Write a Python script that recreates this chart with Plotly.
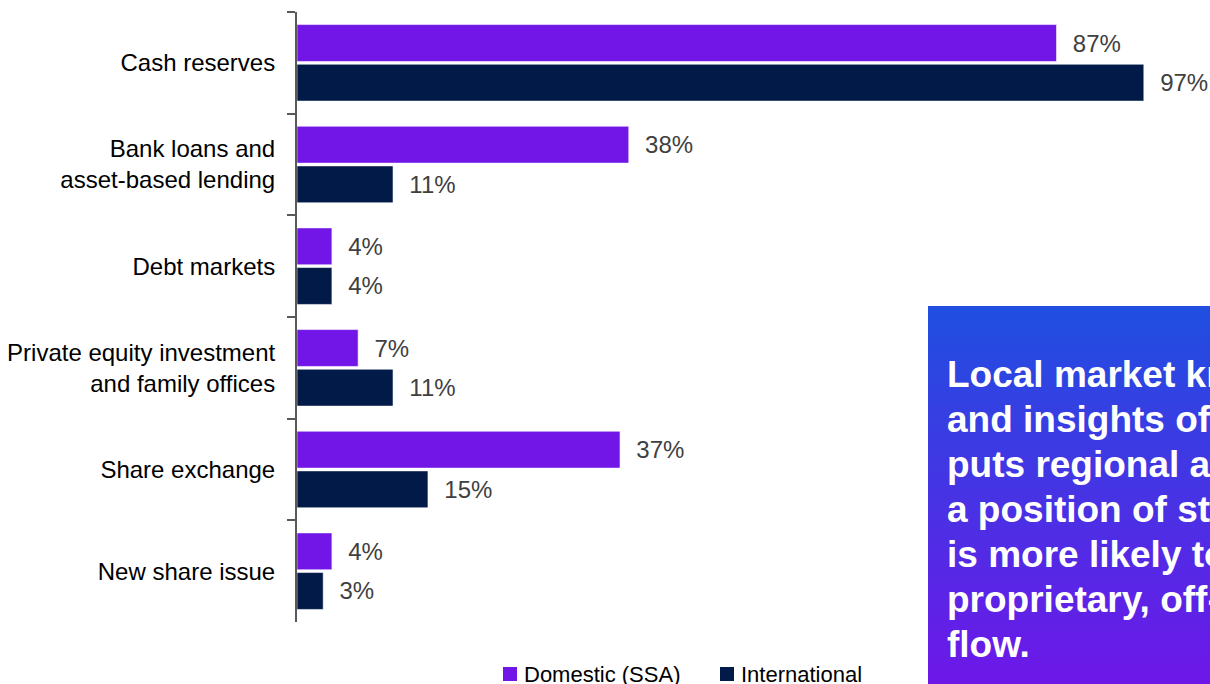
import base64
import plotly.graph_objects as go

# Funding sources by investor type (share of respondents, %)
categories = [
    "Cash reserves",
    "Bank loans and<br>asset-based lending",
    "Debt markets",
    "Private equity investment<br>and family offices",
    "Share exchange",
    "New share issue",
]
domestic = [87, 38, 4, 7, 37, 4]
international = [97, 11, 4, 11, 15, 3]
series_names = ["Domestic (SSA)", "International"]

callout_lines = [
    "Local market knowledge",
    "and insights often",
    "puts regional advisers in",
    "a position of strength",
    "is more likely to",
    "proprietary, off-market",
    "flow.",
]

W, H = 1210, 684
PURPLE = "#7216E8"
NAVY = "#011A47"
FONT = "Liberation Sans, Arial, sans-serif"


def px_x(x):
    return x / W


def px_y(y):
    return 1 - y / H


series = [(series_names[0], domestic, PURPLE),
          (series_names[1], international, NAVY)]

fig = go.Figure()
for name, vals, color in series:
    fig.add_trace(go.Bar(
        y=categories, x=vals, name=name, orientation="h",
        marker=dict(color=color, line=dict(color="rgba(255,255,255,0.55)", width=1)),
        texttemplate="  %{x}%", textposition="outside",
        textfont=dict(size=24, color="#404040", family=FONT),
        constraintext="none", cliponaxis=False, showlegend=False,
    ))

# Gradient panel behind the callout text
svg = (
    '<svg xmlns="http://www.w3.org/2000/svg" width="300" height="400" '
    'preserveAspectRatio="none"><defs><linearGradient id="g" x1="0" y1="0" '
    'x2="0" y2="1"><stop offset="0" stop-color="#1F4FE0"/>'
    '<stop offset="1" stop-color="#6E17E8"/></linearGradient></defs>'
    '<rect width="300" height="400" fill="url(#g)"/></svg>'
)
panel_src = "data:image/svg+xml;base64," + base64.b64encode(svg.encode()).decode()
panel_left, panel_top = 928, 306

annotations = []
for i, line in enumerate(callout_lines):
    baseline = 387 + i * 45
    annotations.append(dict(
        text=line, xref="paper", yref="paper",
        x=px_x(945), y=px_y(baseline - 12.5),
        xanchor="left", yanchor="middle", showarrow=False,
        font=dict(size=37, color="white", family=FONT, weight="bold"),
    ))

# Legend row under the bars: colour swatch followed by the series name
shapes = []
legend_y = 674
for (name, _, color), sx in zip(series, [503, 720]):
    shapes.append(dict(
        type="rect", xref="paper", yref="paper",
        x0=px_x(sx), x1=px_x(sx + 14), y0=px_y(legend_y + 7), y1=px_y(legend_y - 7),
        fillcolor=color, line=dict(width=0),
    ))
    annotations.append(dict(
        text=name, xref="paper", yref="paper",
        x=px_x(sx + 19), y=px_y(legend_y),
        xanchor="left", yanchor="middle", showarrow=False,
        font=dict(size=22, color="black", family=FONT),
    ))

fig.update_layout(
    width=W, height=H, autosize=False,
    margin=dict(l=0, r=0, t=0, b=0),
    paper_bgcolor="white", plot_bgcolor="white",
    barmode="group", bargap=0.22, bargroupgap=0.07,
    font=dict(family=FONT, color="black"),
    showlegend=False,
    xaxis=dict(domain=[px_x(297), px_x(1170)], range=[0, 100], visible=False),
    yaxis=dict(
        domain=[px_y(622), px_y(12)],
        type="category", categoryorder="array", categoryarray=categories,
        autorange="reversed", tickson="boundaries",
        ticks="outside", ticklen=8, tickwidth=2, tickcolor="#595959",
        showline=True, linecolor="#595959", linewidth=2,
        showgrid=False, zeroline=False, automargin=False,
        ticklabelstandoff=15,
        tickfont=dict(size=24, color="black", family=FONT),
    ),
    images=[dict(
        source=panel_src, xref="paper", yref="paper",
        x=px_x(panel_left), y=px_y(panel_top),
        sizex=(W - panel_left) / W, sizey=(H - panel_top) / H,
        xanchor="left", yanchor="top", sizing="stretch", layer="above",
    )],
    shapes=shapes,
    annotations=annotations,
)

fig.write_html("out.html")
